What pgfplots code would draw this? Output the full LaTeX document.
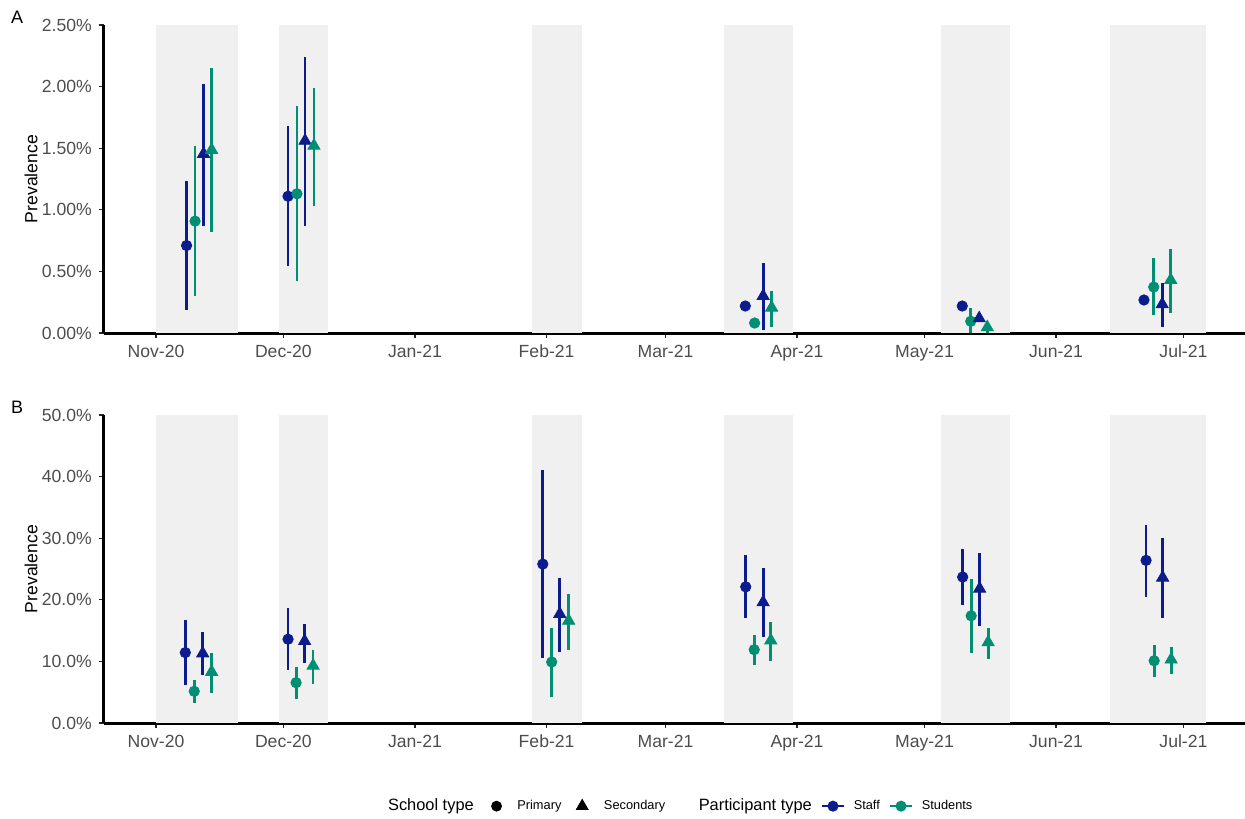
\documentclass[border=0pt]{standalone}
\usepackage{pgfplots}
\pgfplotsset{compat=1.18}
\usepackage{pgfplotstable}
\usepackage{fontspec}
\setmainfont{Liberation Sans}

\definecolor{staffblue}{RGB}{12,28,140}
\definecolor{studgreen}{RGB}{0,143,115}
\definecolor{termgray}{RGB}{240,240,240}
\definecolor{ticktext}{RGB}{77,77,77}

% x = days since 1 Nov 2020; y, lo, hi = prevalence in %
% panel A
\pgfplotstableread{
x     y     lo    hi
7.2   0.710 0.190 1.235
31.1  1.110 0.540 1.680
138.8 0.219 0.219 0.219
189.9 0.219 0.219 0.219
232.7 0.268 0.268 0.268
}\aStaffPri
\pgfplotstableread{
x     y     lo    hi
9.2   0.908 0.300 1.520
33.2  1.130 0.420 1.840
141.0 0.081 0.081 0.081
191.9 0.095 0.000 0.206
235.0 0.373 0.146 0.610
}\aStudPri
\pgfplotstableread{
x     y     lo    hi
11.2  1.454 0.870 2.020
35.1  1.560 0.870 2.240
143.0 0.300 0.024 0.565
193.9 0.119 0.119 0.119
237.0 0.233 0.046 0.405
}\aStaffSec
\pgfplotstableread{
x     y     lo    hi
13.1  1.486 0.820 2.150
37.2  1.520 1.030 1.990
145.0 0.206 0.050 0.340
195.8 0.046 0.000 0.060
239.0 0.430 0.160 0.680
}\aStudSec
% panel B
\pgfplotstableread{
x     y     lo    hi
6.9   11.43 6.20  16.7
31.1  13.6  8.60  18.6
91.1  25.8  10.6  41.0
138.9 22.1  17.1  27.3
190.0 23.7  19.1  28.2
233.2 26.4  20.5  32.1
}\bStaffPri
\pgfplotstableread{
x     y     lo    hi
9.0   5.15  3.25  7.00
33.0  6.55  3.95  9.10
93.2  9.90  4.20  15.5
140.9 11.9  9.35  14.3
192.0 17.4  11.3  23.4
235.1 10.1  7.50  12.6
}\bStudPri
\pgfplotstableread{
x     y     lo    hi
11.0  11.3  7.75  14.7
35.0  13.3  9.75  16.1
95.1  17.7  11.6  23.5
143.0 19.6  14.0  25.1
194.0 21.8  15.7  27.6
237.1 23.6  17.0  30.0
}\bStaffSec
\pgfplotstableread{
x     y     lo    hi
13.1  8.30  4.90  11.3
37.0  9.30  6.30  11.9
97.2  16.6  11.8  21.0
144.8 13.4  10.1  16.4
196.0 13.1  10.4  15.5
239.1 10.3  8.00  12.4
}\bStudSec

\pgfplotsset{
  panel/.style={
    scale only axis, width=570.5bp, height=154bp,
    xmin=-12.25, xmax=256.5, ymin=0,
    axis x line*=bottom, axis y line*=left,
    axis line style={line width=1.5bp, black, -},
    xtick={0,30,61,92,120,151,181,212,242},
    xticklabels={Nov-20,Dec-20,Jan-21,Feb-21,Mar-21,Apr-21,May-21,Jun-21,Jul-21},
    tick align=outside, major tick length=2.6bp,
    tick style={line width=0.6bp, black!85},
    ticklabel style={font=\fontsize{8.8bp}{10bp}\selectfont, text=ticktext},
    ylabel={Prevalence},
    ylabel style={font=\fontsize{8.8bp}{10bp}\selectfont,
      at={(axis description cs:-0.064,0.5)}, anchor=center},
    clip=false,
  },
  term/.style={fill=termgray, draw=none, forget plot},
  pr/.style={only marks, color=#1, mark=*, mark size=2.6bp, forget plot,
    error bars/.cd, y dir=both, y explicit, error mark=none,
    error bar style={line width=1.4bp, color=#1}},
  sc/.style={only marks, color=#1, mark=triangle*, mark size=3.5bp, forget plot,
    error bars/.cd, y dir=both, y explicit, error mark=none,
    error bar style={line width=1.4bp, color=#1}},
  table/ci/.style={x=x, y=y,
    y error plus expr=\thisrow{hi}-\thisrow{y},
    y error minus expr=\thisrow{y}-\thisrow{lo}},
  dotleg/.style={legend image code/.code={%
    \path[draw=none, fill=none] (0bp,0bp) -- (17.8bp,0bp);
    \draw[##1] plot coordinates {(9.4bp,0bp)};}},
  trileg/.style={legend image code/.code={%
    \path[draw=none, fill=none] (0bp,0bp) -- (17.3bp,0bp);
    \draw[##1] plot coordinates {(8.4bp,0bp)};}},
  lineleg/.style={legend image code/.code={%
    \path[draw=none, fill=none] (0bp,0bp) -- (17bp,0bp);
    \draw[mark repeat=2,mark phase=2,##1]
      plot coordinates {(3.1bp,0bp) (8.6bp,0bp) (14.1bp,0bp)};}},
}

\begin{document}
\begin{tikzpicture}
\path[use as bounding box] (-52bp,-243bp) rectangle (570.5bp,166.5bp);

% panel A
\begin{axis}[panel, ymax=2.5,
  ytick={0,0.5,1,1.5,2,2.5},
  yticklabels={0.00\%,0.50\%,1.00\%,1.50\%,2.00\%,2.50\%}]
  \addplot[term] coordinates {(0,2.5) (19.4,2.5)} \closedcycle;
  \addplot[term] coordinates {(29,2.5) (40.4,2.5)} \closedcycle;
  \addplot[term] coordinates {(88.6,2.5) (100.3,2.5)} \closedcycle;
  \addplot[term] coordinates {(133.7,2.5) (150.1,2.5)} \closedcycle;
  \addplot[term] coordinates {(184.8,2.5) (201.2,2.5)} \closedcycle;
  \addplot[term] coordinates {(224.8,2.5) (247.3,2.5)} \closedcycle;
  \addplot[pr=staffblue] table[ci] {\aStaffPri};
  \addplot[pr=studgreen] table[ci] {\aStudPri};
  \addplot[sc=staffblue] table[ci] {\aStaffSec};
  \addplot[sc=studgreen] table[ci] {\aStudSec};
  \node[font=\fontsize{9bp}{10bp}\selectfont] at (axis description cs:-0.0762,1.026) {A};
\end{axis}

% panel B
\begin{axis}[panel, at={(0,-195bp)}, anchor=south west, ymax=50,
  ytick={0,10,20,30,40,50},
  yticklabels={0.0\%,10.0\%,20.0\%,30.0\%,40.0\%,50.0\%},
  legend columns=-1,
  legend style={draw=none, at={(0.505,-0.27)}, anchor=center,
    font=\fontsize{6.4bp}{7.5bp}\selectfont,
    /tikz/every even column/.append style={column sep=0bp}}]
  \addplot[term] coordinates {(0,50) (19.4,50)} \closedcycle;
  \addplot[term] coordinates {(29,50) (40.4,50)} \closedcycle;
  \addplot[term] coordinates {(88.6,50) (100.3,50)} \closedcycle;
  \addplot[term] coordinates {(133.7,50) (150.1,50)} \closedcycle;
  \addplot[term] coordinates {(184.8,50) (201.2,50)} \closedcycle;
  \addplot[term] coordinates {(224.8,50) (247.3,50)} \closedcycle;
  \addplot[pr=staffblue] table[ci] {\bStaffPri};
  \addplot[pr=studgreen] table[ci] {\bStudPri};
  \addplot[sc=staffblue] table[ci] {\bStaffSec};
  \addplot[sc=studgreen] table[ci] {\bStudSec};
  \node[font=\fontsize{9bp}{10bp}\selectfont] at (axis description cs:-0.0762,1.026) {B};

  \addlegendimage{empty legend}
  \addlegendentry{\fontsize{8.2bp}{9bp}\selectfont School type}
  \addlegendimage{dotleg, only marks, black, mark=*, mark size=2.5bp}
  \addlegendentry{Primary}
  \addlegendimage{trileg, only marks, black, mark=triangle*, mark size=3.4bp}
  \addlegendentry{Secondary}
  \addlegendimage{empty legend}
  \addlegendentry{\fontsize{8.2bp}{9bp}\selectfont\hspace*{12.8bp}Participant type}
  \addlegendimage{lineleg, staffblue, line width=1.25bp, mark=*, mark size=2.1bp}
  \addlegendentry{Staff}
  \addlegendimage{lineleg, studgreen, line width=1.25bp, mark=*, mark size=2.1bp}
  \addlegendentry{Students}
\end{axis}
\end{tikzpicture}
\end{document}
